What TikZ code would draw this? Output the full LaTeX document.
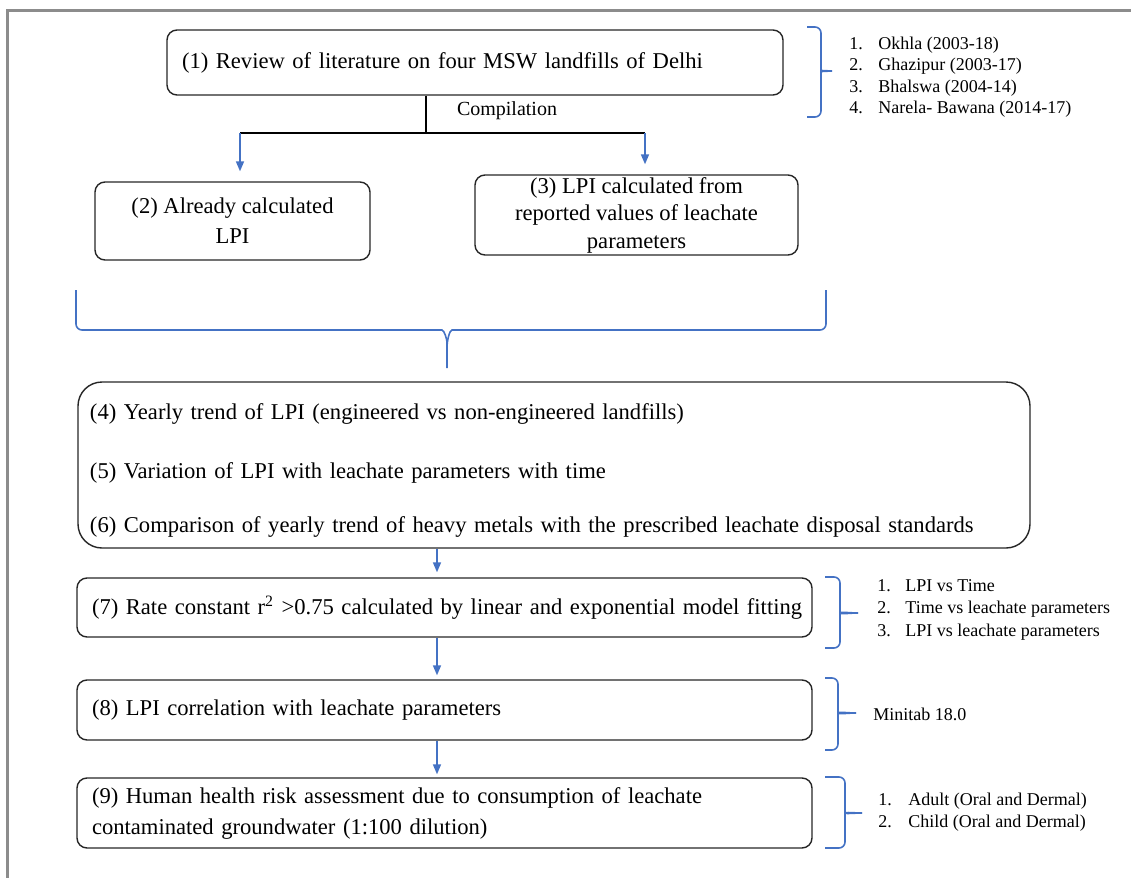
\documentclass[tikz,border=0pt]{standalone}
\usepackage{fontspec}
\setmainfont{Liberation Serif}
\usetikzlibrary{arrows.meta}
\definecolor{flowblue}{HTML}{4472C4}
\definecolor{framegray}{HTML}{8C8C8C}
\begin{document}
\begin{tikzpicture}[x=0.5pt,y=-0.5pt,
    box/.style={draw=black!85,line width=0.7pt,rounded corners=5pt,font=\fontsize{11.3}{14}\selectfont},
    arr/.style={draw=flowblue,line width=0.8pt,-{Triangle[length=5pt,width=4pt]}},
    brace/.style={draw=flowblue,line width=0.8pt,rounded corners=3pt},
    lst/.style={anchor=west,inner sep=0pt,font=\fontsize{9}{11}\selectfont}]
    \useasboundingbox (0,0) rectangle (1131,878);
    \draw[framegray,line width=1.5pt] (7,878) -- (7,10) -- (1131,10);

    \node[box,minimum width=308pt,minimum height=32.5pt,text width=293pt,align=left,inner xsep=7.5pt] (rev) at (475,62.5) {(1) Review of literature on four MSW landfills of Delhi};
    \node[box,minimum width=137.5pt,minimum height=39pt,align=center,font=\fontsize{11.3}{15}\selectfont] (calc) at (232.5,221) {(2) Already calculated\\LPI};
    \node[box,minimum width=161.5pt,minimum height=40pt,align=center,inner ysep=0pt,font=\fontsize{11.3}{13.75}\selectfont] (rep) at (636.5,215) {(3) LPI calculated from\\reported values of leachate\\parameters};

    % compilation split
    \coordinate (split) at (426,133);
    \coordinate (cl) at (240,133);
    \coordinate (cr) at (645,133);
    \draw[black,line width=0.7pt] (rev.south -| split) -- (split);
    \draw[black,line width=1.2pt] (cl) -- (cr);
    \node[font=\fontsize{10}{12}\selectfont] (comp) at (507,111) {Compilation};
    \draw[arr,shorten >=5pt] (cl) -- (cl |- calc.north);
    \draw[arr,shorten >=5pt] (cr) -- (cr |- rep.north);

    % big brace
    \draw[brace] (76,290) |- (436,330) to[out=0,in=90] (447,348) -- (447,368);
    \draw[brace] (447,348) to[out=90,in=180] (458,330) -| (826,290);

    \node[box,rounded corners=12pt,minimum width=476pt,minimum height=83pt,text width=464pt,align=left,inner xsep=6pt] (trend) at (554,465)
        {\rule{0pt}{13pt}(4) Yearly trend of LPI (engineered vs non-engineered landfills)\\[15.5pt]
         (5) Variation of LPI with leachate parameters with time\\[13pt]
         (6) Comparison of yearly trend of heavy metals with the prescribed leachate disposal standards};

    \node[box,minimum width=367.5pt,minimum height=29.5pt,text width=352.5pt,align=left,inner xsep=7.5pt] (rate) at (444.5,607.5)
        {\mbox{(7) Rate constant r\textsuperscript{2} >0.75 calculated by linear and exponential model fitting}};
    \node[box,minimum width=367.5pt,minimum height=30pt,text width=352.5pt,align=left,inner xsep=7.5pt] (corr) at (444.5,710)
        {(8) LPI correlation with leachate parameters};
    \node[box,minimum width=367.5pt,minimum height=35pt,text width=352.5pt,align=left,inner xsep=7.5pt,font=\fontsize{11.3}{15.5}\selectfont] (risk) at (444.5,813)
        {(9) Human health risk assessment due to consumption of leachate\\contaminated groundwater (1:100 dilution)};

    \coordinate (ax) at (437,0);
    \draw[arr,shorten >=2.5pt] (trend.south -| ax) -- (rate.north -| ax);
    \draw[arr,shorten >=2pt] (rate.south -| ax) -- (corr.north -| ax);
    \draw[arr,shorten >=1.5pt] (corr.south -| ax) -- (risk.north -| ax);

    % side braces
    \draw[brace] (807,27) -| (821,65) to[out=-90,in=180] (832,71);
    \draw[brace] (832,71) to[out=180,in=90] (821,77) |- (807,117);
    \draw[brace] (825,577) -| (840,607) to[out=-90,in=180] (858,613);
    \draw[brace] (858,613) to[out=180,in=90] (840,619) |- (825,648);
    \draw[brace] (825,678) -| (838,707) to[out=-90,in=180] (856,713);
    \draw[brace] (856,713) to[out=180,in=90] (838,719) |- (825,750);
    \draw[brace] (825,777) -| (845,807) to[out=-90,in=180] (862,813);
    \draw[brace] (862,813) to[out=180,in=90] (845,819) |- (825,848);

    \node[lst,font=\fontsize{9}{10.75}\selectfont] (sites) at (849,77) {\begin{tabular}{@{}p{14.5pt}@{}l@{}}
        1. & Okhla (2003-18)\\ 2. & Ghazipur (2003-17)\\ 3. & Bhalswa (2004-14)\\ 4. & Narela- Bawana (2014-17)\end{tabular}};
    \node[lst,font=\fontsize{9}{11.25}\selectfont] (fits) at (877,609) {\begin{tabular}{@{}p{14pt}@{}l@{}}
        1. & LPI vs Time\\ 2. & Time vs leachate parameters\\ 3. & LPI vs leachate parameters\end{tabular}};
    \node[lst] (mini) at (873,714) {Minitab 18.0};
    \node[lst] (grp) at (878,812) {\begin{tabular}{@{}p{15pt}@{}l@{}}
        1. & Adult (Oral and Dermal)\\ 2. & Child (Oral and Dermal)\end{tabular}};
\end{tikzpicture}
\end{document}
